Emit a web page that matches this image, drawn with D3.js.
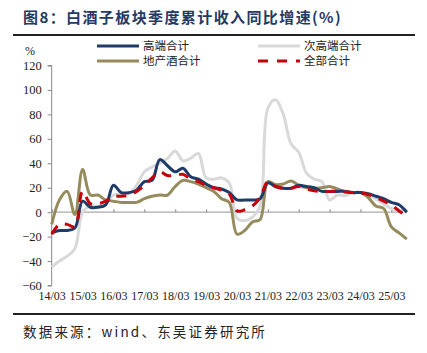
<!DOCTYPE html>
<html><head><meta charset="utf-8">
<script src="https://cdn.jsdelivr.net/npm/d3@7"></script>
<style>
html,body{margin:0;padding:0;background:#fff;}
svg{display:block;}
</style></head>
<body>
<svg id="chart" width="427" height="353"></svg>
<script>
// quarterly periods 14Q1 .. 25Q3
const quarters = d3.range(47);
const xTickLabels = ["14/03","15/03","16/03","17/03","18/03","19/03","20/03","21/03","22/03","23/03","24/03","25/03"];
const yTicks = [120,100,80,60,40,20,0,-20,-40,-60];
const seriesNames = ["高端合计","次高端合计","地产酒合计","全部合计"];

const highEnd = [-17,-15,-15,-13,9,4,4,6,22,16,16,18,25,26,43,38,33,36,29,27,23,20,19,16,10,10,10,11,24,21,19.5,19.5,22,21,20,17,17,17,17,16,16,15,13,11,8,6,0];
const subHighEnd = [-45,-40,-36,-30,0,5,5,7,14,15,15,22,33,37,40,44,50,42,44,48,28,27,28,24,-5,-7,-4,5,85,92,80,56,49,32,27,25,10,14,13.5,16,16,14,11,6.5,3,1.5,0];
const regional = [-10,10,17,-2,35,14,14,10,9,8,8,8,11,13,14,14,21,26,25,23,20,17,11,8,-18,-15,-8,-6,25,22.5,23,25.5,22,20,19.5,20,21,19,17,16,16,12,5,3,-12,-17,-22];
const total = [-18,-10,-10,-12,17,7,7,9,13,13,14,17,22,28,33,30,30,31,27,25,22,20,18,15,1,2,5,12,25,21,19.5,19.5,21,19,17.5,17,17,17,16.5,16,15.5,14.5,12,9,6,1,-3];

const svg = d3.select("#chart");
const x = d3.scaleLinear().domain([0,46]).range([51.7, 406.8]);
const y = d3.scaleLinear().domain([-60,120]).range([285.5, 65.5]);

// title
svg.append("text").attr("x",23).attr("y",23)
  .attr("font-family","'Noto Sans CJK SC', sans-serif").attr("font-weight","bold")
  .attr("font-size",15).attr("fill","#243a63").attr("letter-spacing",1.4)
  .text("图8：白酒子板块季度累计收入同比增速(%)");
svg.append("line").attr("x1",13).attr("x2",415).attr("y1",35).attr("y2",35)
  .attr("stroke","#222").attr("stroke-width",2);
svg.append("line").attr("x1",13).attr("x2",415).attr("y1",314).attr("y2",314)
  .attr("stroke","#222").attr("stroke-width",2);
svg.append("text").attr("x",23).attr("y",337)
  .attr("font-family","'Noto Sans CJK SC', sans-serif")
  .attr("font-size",13.5).attr("fill","#222").attr("letter-spacing",2.2)
  .text("数据来源：wind、东吴证券研究所");

// y axis
const yAxis = d3.axisLeft(y).tickValues(yTicks).tickSize(4).tickPadding(6).tickFormat(d3.format("d"));
const gy = svg.append("g").attr("transform","translate(51.7,0)").call(yAxis);
gy.select(".domain").attr("stroke","#888").attr("d",`M-4,${y(120)}H0V${y(-60)}H-4`);
gy.selectAll(".tick line").attr("stroke","#888");
gy.selectAll(".tick text").attr("font-family","'Liberation Serif', 'Times New Roman', serif").attr("font-size",12.5).attr("fill","#222");
svg.append("text").attr("x",30).attr("y",55).attr("text-anchor","middle")
  .attr("font-family","'Liberation Serif', serif").attr("font-size",12).attr("fill","#222").text("%");

// zero line with ticks
const xAxis = d3.axisTop(x).tickValues(d3.range(0,48,4)).tickSize(3).tickFormat("");
const gx = svg.append("g").attr("transform",`translate(0,${y(0)})`).call(xAxis);
gx.select(".domain").attr("stroke","#aaa").attr("stroke-width",1.2).attr("d",`M${x(0)},0H${x(46)}`);
gx.selectAll(".tick line").attr("stroke","#888");

// x labels at bottom
const xLab = d3.axisBottom(x).tickValues(d3.range(0,48,4)).tickSize(0).tickPadding(0)
  .tickFormat((d,i)=>xTickLabels[i]);
const gxl = svg.append("g").attr("transform","translate(0,291)").call(xLab);
gxl.select(".domain").remove();
gxl.selectAll("text").attr("font-family","'Liberation Serif', serif").attr("font-size",12).attr("fill","#222");

// lines
const line = d3.line().x((d,i)=>x(quarters[i])).y(d=>y(d)).curve(d3.curveCatmullRom.alpha(0.5));
const styles = [
  {data: subHighEnd, color:"#d9d9d9", dash:null},
  {data: regional, color:"#958b5c", dash:null},
  {data: highEnd, color:"#1f3c68", dash:null},
  {data: total, color:"#c8000a", dash:"10,8"}
];
styles.forEach(s=>{
  svg.append("path").attr("d",line(s.data)).attr("fill","none")
    .attr("stroke",s.color).attr("stroke-width",3).attr("stroke-linejoin","round")
    .attr("stroke-dasharray",s.dash);
});

// legend
const legend = [
  {name: seriesNames[0], color:"#1f3c68", dash:null, x:97, y:46},
  {name: seriesNames[1], color:"#d9d9d9", dash:null, x:258, y:46},
  {name: seriesNames[2], color:"#958b5c", dash:null, x:97, y:61},
  {name: seriesNames[3], color:"#c8000a", dash:"10,9", x:258, y:61}
];
legend.forEach(l=>{
  svg.append("line").attr("x1",l.x).attr("x2",l.x+42).attr("y1",l.y).attr("y2",l.y)
    .attr("stroke",l.color).attr("stroke-width",3).attr("stroke-dasharray",l.dash);
  svg.append("text").attr("x",l.x+46).attr("y",l.y+4)
    .attr("font-family","'Noto Sans CJK SC', sans-serif").attr("font-size",11.5).attr("fill","#222")
    .text(l.name);
});
</script>
</body></html>
